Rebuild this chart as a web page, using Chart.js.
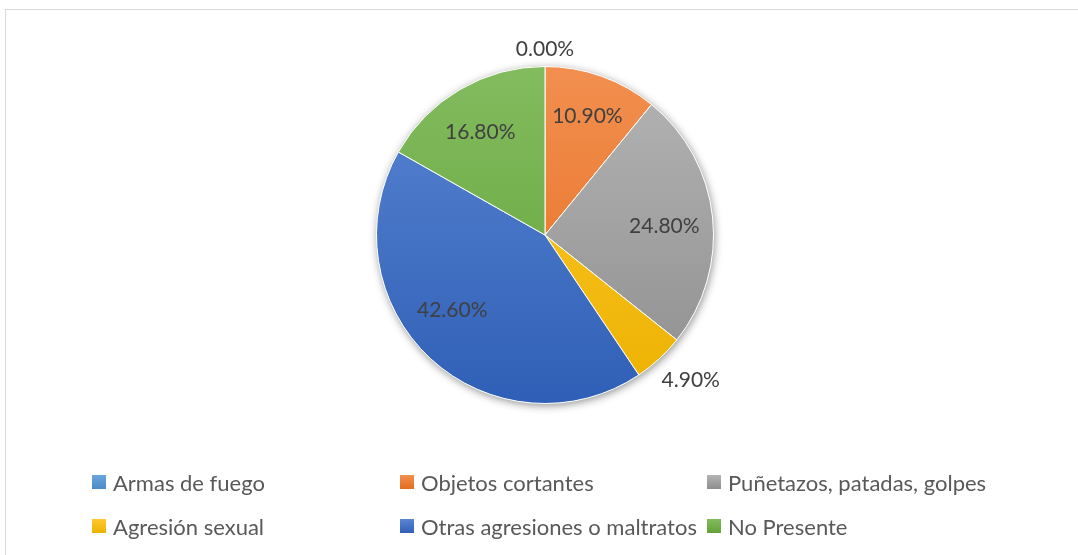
<!DOCTYPE html>
<html>
<head>
<meta charset="utf-8">
<script src="https://cdn.jsdelivr.net/npm/chart.js@4.4.1/dist/chart.umd.min.js"></script>
<style>
  html, body { margin: 0; padding: 0; background: #fff; }
  body { width: 1078px; height: 555px; position: relative; overflow: hidden; font-family: Lato, "Noto Sans", sans-serif; }
  #frame { position: absolute; left: 5px; top: 9px; width: 1100px; height: 600px; border: 1px solid #d9d9d9; box-sizing: border-box; }
  #wrap { position: absolute; left: 0; top: 0; width: 1078px; height: 555px; }
  #legend { position: absolute; left: 92px; top: 460px; display: grid; grid-template-columns: 308px 307px auto; grid-auto-rows: 44px; }
  #legend div { display: flex; align-items: center; color: #595959; font-size: 22px; white-space: nowrap; }
  #legend span { display: inline-block; width: 14px; height: 14px; margin-right: 7px; }
</style>
</head>
<body>
<div id="frame"></div>
<div id="wrap"><canvas id="myChart"></canvas></div>
<div id="legend"></div>
<script>
const labels = [
  "Armas de fuego",
  "Objetos cortantes",
  "Puñetazos, patadas, golpes",
  "Agresión sexual",
  "Otras agresiones o maltratos",
  "No Presente",
];
const values = [0.0, 10.9, 24.8, 4.9, 42.6, 16.8];

// office colors, top (light) and bottom (dark) of the gradient
const topColors = ["#6aa6db", "#f28f50", "#b4b4b4", "#ffc830", "#5a85d2", "#83bb5f"];
const bottomColors = ["#4b8bc8", "#e46d1c", "#8e8e8e", "#ecb200", "#2f5fb6", "#62a336"];

// where each label sits: share of the radius, and a turn (degrees) off the slice middle
const labelRadius = [1.1, 0.75, 0.71, 1.22, 0.71, 0.72];
const labelTurn = [0, 0, 2, -2.5, 8, -2];

function sliceFill(context) {
  const chart = context.chart;
  const area = chart.chartArea;
  if (!area) return topColors[context.dataIndex];
  const g = chart.ctx.createLinearGradient(0, area.top, 0, area.bottom);
  g.addColorStop(0, topColors[context.dataIndex]);
  g.addColorStop(1, bottomColors[context.dataIndex]);
  return g;
}

// soft shadow under the whole pie
const pieShadow = {
  id: "pieShadow",
  beforeDatasetsDraw(chart) {
    const arc = chart.getDatasetMeta(0).data[0];
    if (!arc) return;
    const { x, y, outerRadius } = arc.getProps(["x", "y", "outerRadius"], true);
    const ctx = chart.ctx;
    ctx.save();
    ctx.shadowColor = "rgba(0,0,0,0.45)";
    ctx.shadowBlur = 9;
    ctx.shadowOffsetX = 1;
    ctx.shadowOffsetY = 2;
    ctx.fillStyle = "#fff";
    ctx.beginPath();
    ctx.arc(x, y, outerRadius, 0, Math.PI * 2);
    ctx.fill();
    ctx.restore();
  },
};

// percent labels
const pieLabels = {
  id: "pieLabels",
  afterDatasetsDraw(chart) {
    const ctx = chart.ctx;
    ctx.save();
    ctx.font = "21px Lato";
    ctx.fillStyle = "#404040";
    ctx.textAlign = "center";
    ctx.textBaseline = "middle";
    chart.getDatasetMeta(0).data.forEach((arc, i) => {
      const p = arc.getProps(["x", "y", "startAngle", "endAngle", "outerRadius"], true);
      const mid = (p.startAngle + p.endAngle) / 2 + (labelTurn[i] * Math.PI) / 180;
      const r = p.outerRadius * labelRadius[i];
      ctx.fillText(values[i].toFixed(2) + "%", p.x + Math.cos(mid) * r, p.y + Math.sin(mid) * r);
    });
    ctx.restore();
  },
};

const ctx = document.getElementById("myChart").getContext("2d");

new Chart(ctx, {
  type: "pie",
  data: {
    labels: labels,
    datasets: [
      {
        data: values,
        backgroundColor: sliceFill,
        borderColor: "#ffffff",
        borderWidth: 1,
      },
    ],
  },
  options: {
    responsive: true,
    maintainAspectRatio: false,
    animation: false,
    layout: {
      padding: { top: 66, bottom: 151, left: 12, right: 0 },
    },
    plugins: {
      legend: { display: false },
      tooltip: { enabled: false },
    },
  },
  plugins: [pieShadow, pieLabels],
});

// legend laid out in three columns like the original
const legend = document.getElementById("legend");
labels.forEach((name, i) => {
  const item = document.createElement("div");
  const box = document.createElement("span");
  box.style.background = "linear-gradient(" + topColors[i] + "," + bottomColors[i] + ")";
  item.appendChild(box);
  item.appendChild(document.createTextNode(name));
  legend.appendChild(item);
});
</script>
</body>
</html>
